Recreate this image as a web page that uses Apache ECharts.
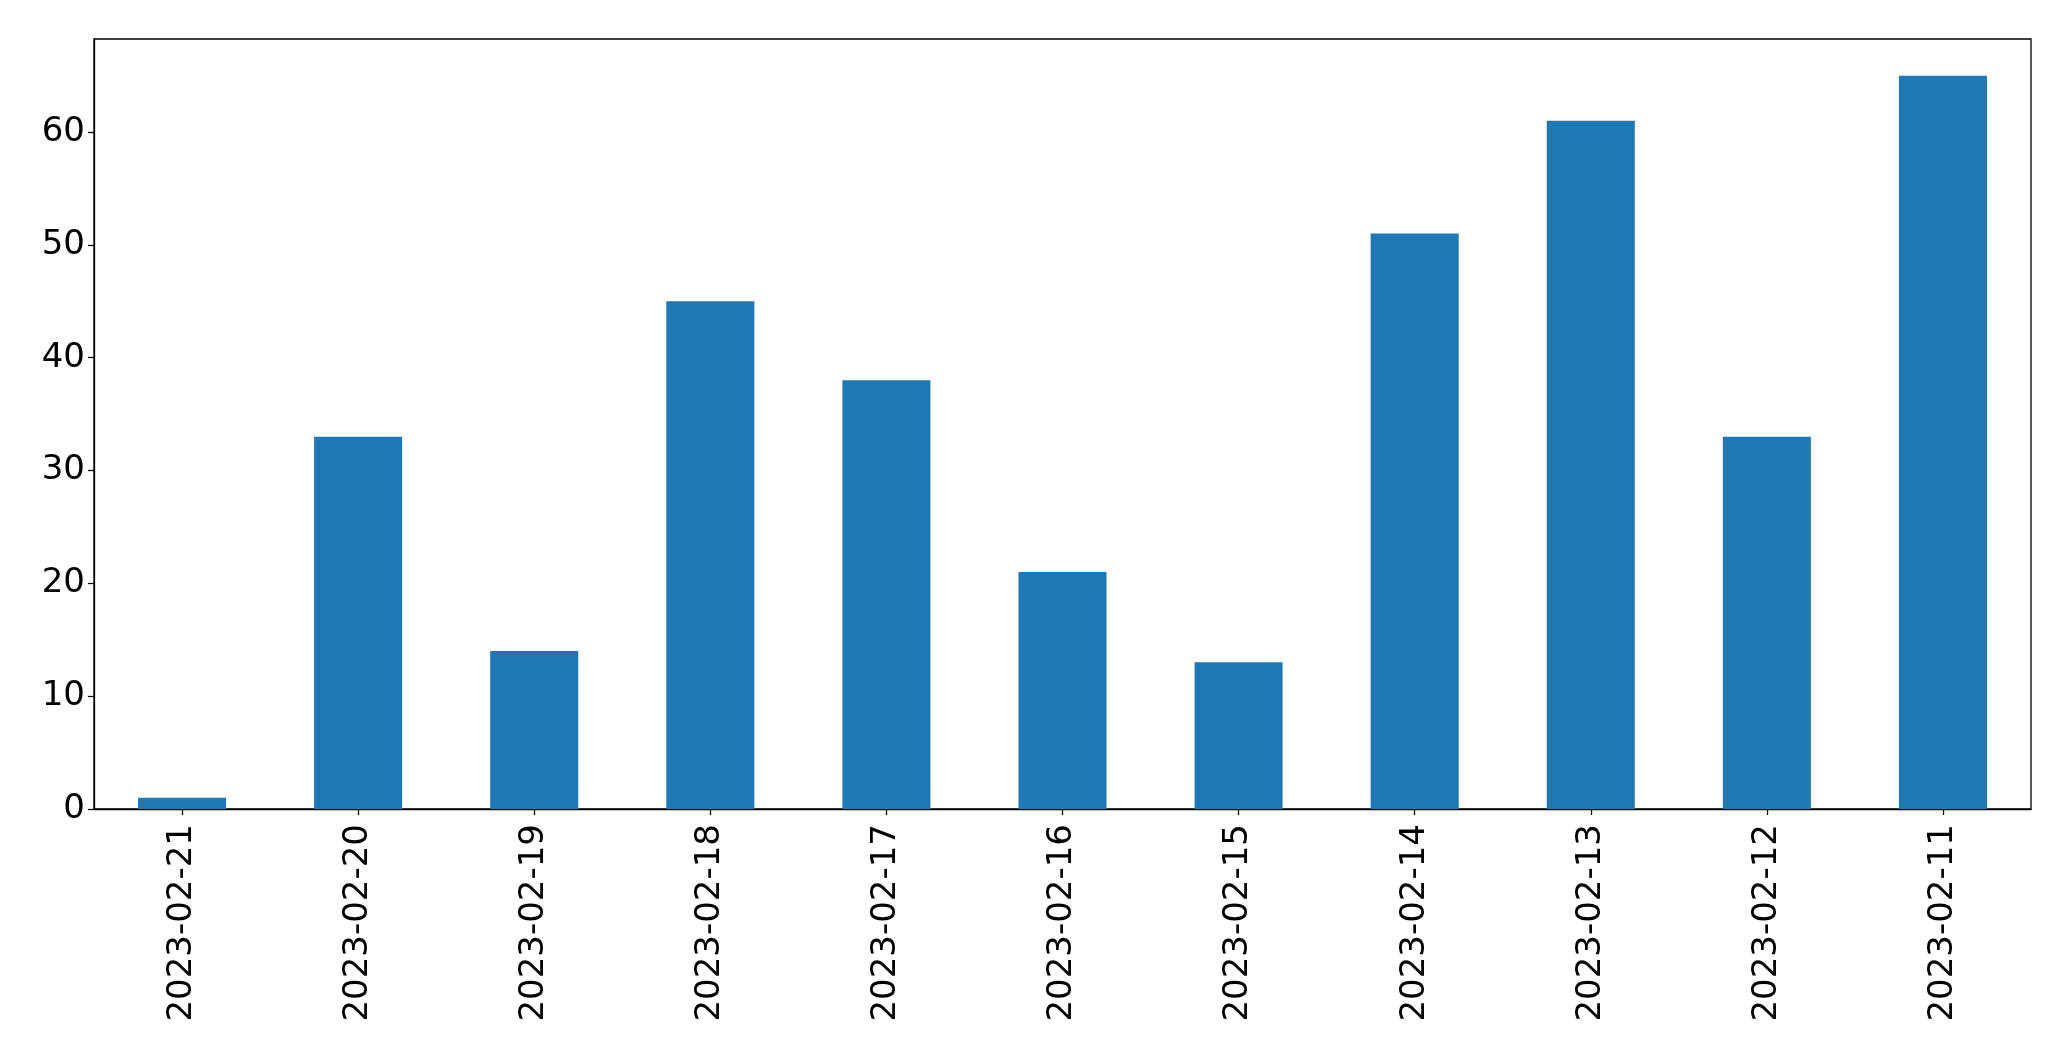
<!DOCTYPE html>
<html>
<head>
<meta charset="utf-8">
<script src="https://cdn.jsdelivr.net/npm/echarts@6/dist/echarts.min.js"></script>
<style>
html,body{margin:0;padding:0;background:#fff;}
#chart{width:2071px;height:1061px;}
</style>
</head>
<body>
<div id="chart"></div>
<script>
const categories = ["2023-02-21","2023-02-20","2023-02-19","2023-02-18","2023-02-17","2023-02-16","2023-02-15","2023-02-14","2023-02-13","2023-02-12","2023-02-11"];
const values = [1, 33, 14, 45, 38, 21, 13, 51, 61, 33, 65];
const yTicks = [0, 10, 20, 30, 40, 50, 60];

const chart = echarts.init(document.getElementById('chart'), null, {renderer: 'canvas'});
const font = 'DejaVu Sans';
chart.setOption({
  animation: false,
  backgroundColor: '#ffffff',
  grid: {left: 94, right: 40, top: 39, bottom: 252, show: true, borderColor: '#000', borderWidth: 1.3, containLabel: false},
  xAxis: {
    type: 'category',
    data: categories,
    boundaryGap: true,
    axisLine: {show: true, lineStyle: {color: '#000', width: 1.3}},
    axisTick: {show: true, alignWithLabel: true, length: 6, lineStyle: {color: '#000', width: 1.3}},
    axisLabel: {rotate: 90, color: '#000', fontFamily: font, fontSize: 34, margin: 15, interval: 0},
    splitLine: {show: false}
  },
  yAxis: {
    type: 'value',
    min: 0,
    max: 68.25,
    interval: 10,
    axisLine: {show: true, lineStyle: {color: '#000', width: 1.3}},
    axisTick: {show: true, length: 6, lineStyle: {color: '#000', width: 1.3}},
    axisLabel: {color: '#000', fontFamily: font, fontSize: 34, margin: 9, showMaxLabel: false,
      formatter: v => yTicks.includes(v) ? String(v) : ''},
    splitLine: {show: false}
  },
  series: [{
    type: 'bar',
    data: values,
    barWidth: '50%',
    itemStyle: {color: '#1f77b4'}
  }]
});
</script>
</body>
</html>
